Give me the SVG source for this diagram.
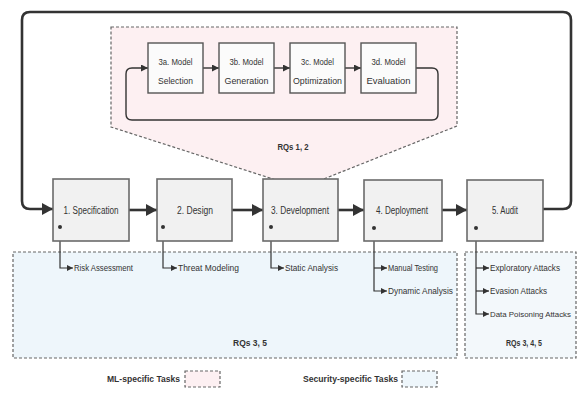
<svg xmlns="http://www.w3.org/2000/svg" width="578" height="406" viewBox="0 0 578 406">
<defs>
<style>
.t{font-family:"Liberation Sans",Arial,sans-serif;fill:#333;}
.m{font-size:10px;}
.s{font-size:9px;}
.b{font-weight:bold;}
.box{fill:#f1f1f1;stroke:#6b6b6b;stroke-width:1.6;}
.ibox{fill:#fbfbfb;stroke:#555;stroke-width:1.4;}
.reg{stroke:#666;stroke-width:1.2;stroke-dasharray:3,2;}
.thick{fill:none;stroke:#333;stroke-width:2.6;}
.thin{fill:none;stroke:#333;stroke-width:1.2;}
.mid{fill:none;stroke:#333;stroke-width:1.4;}
</style>
<marker id="ah" markerUnits="userSpaceOnUse" markerWidth="12" markerHeight="12" refX="11" refY="6" orient="auto"><path d="M0,0 L11,6 L0,12 z" fill="#333"/></marker>
<marker id="am" markerUnits="userSpaceOnUse" markerWidth="7" markerHeight="7" refX="7" refY="3.5" orient="auto"><path d="M0,0 L7,3.5 L0,7 z" fill="#333"/></marker>
<marker id="as" markerUnits="userSpaceOnUse" markerWidth="6" markerHeight="6" refX="6" refY="3" orient="auto"><path d="M0,0 L6,3 L0,6 z" fill="#333"/></marker>
</defs>
<rect width="578" height="406" fill="#fff"/>

<g id="regions">
<polygon class="reg" points="111,27 457,27 457,126 301,188 111,127" fill="#fdf0f2"/>
<rect class="reg" x="13" y="252" width="444" height="106" fill="#eef6fb"/>
<rect class="reg" x="465" y="252" width="111" height="106" fill="#f3f8fb"/>
</g>

<g id="connectors">
<path class="thick" d="M543,209 H563 Q571,209 571,201 V20 Q571,12 563,12 H30 Q22,12 22,20 V201 Q22,209 30,209 H53" marker-end="url(#ah)"/>
<path class="thick" d="M129,210 H157" marker-end="url(#ah)"/>
<path class="thick" d="M232,210 H263" marker-end="url(#ah)"/>
<path class="thick" d="M338,210 H364" marker-end="url(#ah)"/>
<path class="thick" d="M442,210 H467" marker-end="url(#ah)"/>
<path class="mid" d="M203,68 H219" marker-end="url(#am)"/>
<path class="mid" d="M274,68 H290" marker-end="url(#am)"/>
<path class="mid" d="M345,68 H361" marker-end="url(#am)"/>
<path class="mid" d="M416,68 H432 Q438,68 438,74 V114 Q438,120 432,120 H132 Q126,120 126,114 V74 Q126,68 132,68 H148" marker-end="url(#am)"/>
<path class="thin" d="M60,227 V268 H73" marker-end="url(#as)"/>
<path class="thin" d="M163,227 V268 H177" marker-end="url(#as)"/>
<path class="thin" d="M271,227 V268 H284" marker-end="url(#as)"/>
<path class="thin" d="M374,228 V291 H387" marker-end="url(#as)"/>
<path class="thin" d="M374,268 H387" marker-end="url(#as)"/>
<path class="thin" d="M476,228 V314 H489" marker-end="url(#as)"/>
<path class="thin" d="M476,268 H489" marker-end="url(#as)"/>
<path class="thin" d="M476,291 H489" marker-end="url(#as)"/>
</g>

<g id="n1"><rect class="box" x="53" y="179" width="76" height="62"/><text class="t m" x="91" y="213.5" text-anchor="middle" textLength="55" lengthAdjust="spacingAndGlyphs">1. Specification</text><circle cx="60" cy="227" r="2" fill="#333"/></g>
<g id="n2"><rect class="box" x="157" y="179" width="75" height="62"/><text class="t m" x="195" y="213.5" text-anchor="middle" textLength="36" lengthAdjust="spacingAndGlyphs">2. Design</text><circle cx="163" cy="227" r="2" fill="#333"/></g>
<g id="n3"><rect class="box" x="263" y="179" width="75" height="62"/><text class="t m" x="300" y="213.5" text-anchor="middle" textLength="58" lengthAdjust="spacingAndGlyphs">3. Development</text><circle cx="271" cy="227" r="2" fill="#333"/></g>
<g id="n4"><rect class="box" x="364" y="180" width="78" height="61"/><text class="t m" x="402" y="213.5" text-anchor="middle" textLength="52" lengthAdjust="spacingAndGlyphs">4. Deployment</text><circle cx="374" cy="228" r="2" fill="#333"/></g>
<g id="n5"><rect class="box" x="467" y="180" width="76" height="61"/><text class="t m" x="505" y="213.5" text-anchor="middle" textLength="26" lengthAdjust="spacingAndGlyphs">5. Audit</text><circle cx="476" cy="228" r="2" fill="#333"/></g>

<g id="n3a"><rect class="ibox" x="148" y="43" width="55" height="50"/><text class="t s" x="175.5" y="65" text-anchor="middle" textLength="34" lengthAdjust="spacingAndGlyphs">3a. Model</text><text class="t s" x="175.5" y="84" text-anchor="middle" textLength="35" lengthAdjust="spacingAndGlyphs">Selection</text></g>
<g id="n3b"><rect class="ibox" x="219" y="43" width="55" height="50"/><text class="t s" x="246.5" y="65" text-anchor="middle" textLength="34" lengthAdjust="spacingAndGlyphs">3b. Model</text><text class="t s" x="246.5" y="84" text-anchor="middle" textLength="44" lengthAdjust="spacingAndGlyphs">Generation</text></g>
<g id="n3c"><rect class="ibox" x="290" y="43" width="55" height="50"/><text class="t s" x="317.5" y="65" text-anchor="middle" textLength="33" lengthAdjust="spacingAndGlyphs">3c. Model</text><text class="t s" x="317.5" y="84" text-anchor="middle" textLength="49" lengthAdjust="spacingAndGlyphs">Optimization</text></g>
<g id="n3d"><rect class="ibox" x="361" y="43" width="55" height="50"/><text class="t s" x="388.5" y="65" text-anchor="middle" textLength="34" lengthAdjust="spacingAndGlyphs">3d. Model</text><text class="t s" x="388.5" y="84" text-anchor="middle" textLength="44" lengthAdjust="spacingAndGlyphs">Evaluation</text></g>

<g id="tasks">
<text class="t s" x="74" y="271" textLength="59" lengthAdjust="spacingAndGlyphs">Risk Assessment</text>
<text class="t s" x="178" y="271" textLength="61" lengthAdjust="spacingAndGlyphs">Threat Modeling</text>
<text class="t s" x="285" y="271" textLength="53" lengthAdjust="spacingAndGlyphs">Static Analysis</text>
<text class="t s" x="388" y="271" textLength="50" lengthAdjust="spacingAndGlyphs">Manual Testing</text>
<text class="t s" x="388" y="294" textLength="65" lengthAdjust="spacingAndGlyphs">Dynamic Analysis</text>
<text class="t s" x="490" y="271" textLength="70" lengthAdjust="spacingAndGlyphs">Exploratory Attacks</text>
<text class="t s" x="490" y="294" textLength="57" lengthAdjust="spacingAndGlyphs">Evasion Attacks</text>
<text class="t" style="font-size:8px" x="490" y="317" textLength="81" lengthAdjust="spacingAndGlyphs">Data Poisoning Attacks</text>
</g>

<g id="labels">
<text class="t s b" x="293" y="150" text-anchor="middle" textLength="31" lengthAdjust="spacingAndGlyphs">RQs 1, 2</text>
<text class="t s b" x="250" y="346" text-anchor="middle" textLength="34" lengthAdjust="spacingAndGlyphs">RQs 3, 5</text>
<text class="t s b" x="524" y="346" text-anchor="middle" textLength="36" lengthAdjust="spacingAndGlyphs">RQs 3, 4, 5</text>
</g>

<g id="legend">
<text class="t s b" x="107" y="382" textLength="73" lengthAdjust="spacingAndGlyphs">ML-specific Tasks</text>
<rect class="reg" x="185" y="371" width="35" height="16" fill="#fdf0f2"/>
<text class="t s b" x="303" y="382" textLength="95" lengthAdjust="spacingAndGlyphs">Security-specific Tasks</text>
<rect class="reg" x="402" y="371" width="35" height="16" fill="#eef6fb"/>
</g>
</svg>
